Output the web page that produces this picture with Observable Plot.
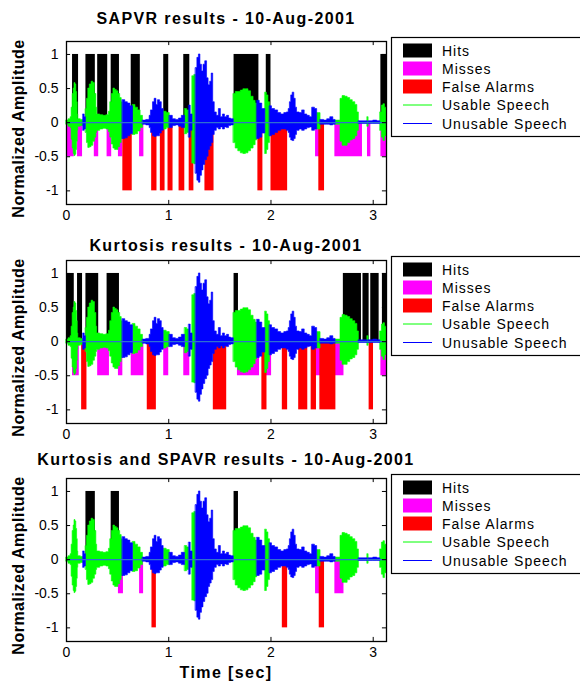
<!DOCTYPE html>
<html><head><meta charset="utf-8">
<script src="https://cdn.jsdelivr.net/npm/d3@7"></script>
<script src="https://cdn.jsdelivr.net/npm/@observablehq/plot@0.6"></script>
<style>
body{margin:0;background:#fff;}
#root{position:relative;width:580px;height:683px;overflow:hidden;background:#fff;font-family:"Liberation Sans",Arial,sans-serif;}
.panel{position:absolute;left:0;}
#overlay{position:absolute;left:0;top:0;}
</style></head><body><div id="root"></div>
<script>
// ---------- text ----------
const titles = ["SAPVR results - 10-Aug-2001", "Kurtosis results - 10-Aug-2001", "Kurtosis and SPAVR results - 10-Aug-2001"];
const legendLabels = ["Hits", "Misses", "False Alarms", "Usable Speech", "Unusable Speech"];
const yLabel = "Normalized Amplitude";
const xLabel = "Time [sec]";
const yTicks = [-1, -0.5, 0, 0.5, 1];
const xTicks = [0, 1, 2, 3];
const tEnd = 3.13;

// ---------- waveform envelope (start time, upper, lower, usable flag) ----------
const waveT = [
 0.000,0.020,0.040,0.050,0.060,0.070,0.078,0.088,0.096,0.104,0.110,0.115,0.140,
 0.165,0.178,
 0.190,0.200,0.213,0.228,0.245,0.262,0.278,0.292,0.300,0.330,0.360,0.390,0.415,0.428,0.443,0.459,0.475,0.492,0.508,0.525,0.540,
 0.550,0.575,0.600,0.625,
 0.650,0.675,0.700,0.725,
 0.748,0.780,0.813,0.826,0.846,0.862,0.880,0.895,0.915,0.932,
 0.950,0.980,
 1.010,1.040,1.070,1.100,1.128,
 1.160,1.180,
 1.200,1.215,
 1.233,1.250,
 1.266,1.280,1.295,1.310,1.325,1.340,1.357,1.375,1.390,1.405,1.420,1.435,1.450,1.470,1.490,1.510,1.530,1.550,1.570,1.590,1.610,
 1.636,1.655,1.680,1.705,1.730,1.755,1.780,1.805,1.830,1.850,
 1.865,1.890,1.915,
 1.945,1.960,1.975,
 1.990,2.010,2.040,2.070,2.100,2.130,2.155,2.173,2.185,2.198,2.212,2.228,2.242,2.255,2.280,2.305,2.330,2.355,2.380,2.403,2.430,
 2.452,
 2.485,2.520,2.550,2.580,2.610,
 2.632,2.680,2.700,2.725,2.750,2.775,2.800,2.825,2.845,
 2.860,
 2.945,
 2.955,3.000,3.040,
 3.070,3.085,3.100,3.115];
const waveHi = [
 0.03,0.05,0.08,0.22,0.42,0.50,0.58,0.56,0.45,0.30,0.12,0.05,0.04,
 0.12,0.08,
 0.20,0.35,0.50,0.56,0.60,0.58,0.42,0.22,0.12,0.11,0.10,0.11,0.16,0.30,0.42,0.50,0.48,0.46,0.42,0.36,0.30,
 0.33,0.30,0.28,0.24,
 0.26,0.22,0.18,0.10,
 0.03,0.04,0.10,0.18,0.30,0.35,0.26,0.33,0.30,0.20,
 0.16,0.14,
 0.10,0.05,0.04,0.06,0.10,
 0.20,0.18,
 0.25,0.12,
 0.68,0.70,
 0.80,0.95,1.00,0.85,0.75,0.85,0.90,0.65,0.55,0.60,0.72,0.30,0.15,0.10,0.20,0.08,0.12,0.08,0.10,0.06,0.05,
 0.42,0.45,0.45,0.47,0.49,0.49,0.46,0.38,0.32,0.28,
 0.32,0.28,0.20,
 0.44,0.40,0.30,
 0.24,0.20,0.18,0.14,0.12,0.14,0.15,0.20,0.30,0.40,0.44,0.35,0.22,0.15,0.14,0.18,0.12,0.10,0.08,0.22,0.20,
 0.14,
 0.04,0.03,0.05,0.08,0.04,
 0.03,0.35,0.39,0.38,0.36,0.33,0.30,0.26,0.15,
 0.02,
 0.08,
 0.02,0.03,0.02,
 0.15,0.25,0.27,0.22];
const waveLo = [
 -0.03,-0.06,-0.08,-0.25,-0.38,-0.46,-0.49,-0.47,-0.40,-0.28,-0.12,-0.06,-0.05,
 -0.12,-0.10,
 -0.15,-0.30,-0.37,-0.36,-0.34,-0.28,-0.22,-0.15,-0.12,-0.10,-0.09,-0.10,-0.14,-0.22,-0.32,-0.38,-0.40,-0.40,-0.36,-0.30,-0.24,
 -0.24,-0.23,-0.20,-0.17,
 -0.18,-0.17,-0.13,-0.08,
 -0.03,-0.04,-0.08,-0.15,-0.20,-0.21,-0.20,-0.20,-0.16,-0.12,
 -0.10,-0.08,
 -0.08,-0.05,-0.04,-0.06,-0.08,
 -0.17,-0.15,
 -0.22,-0.12,
 -0.60,-0.61,
 -0.75,-0.85,-0.88,-0.78,-0.70,-0.62,-0.55,-0.50,-0.40,-0.35,-0.30,-0.18,-0.12,-0.08,-0.10,-0.07,-0.10,-0.07,-0.08,-0.05,-0.04,
 -0.30,-0.38,-0.42,-0.45,-0.46,-0.45,-0.42,-0.38,-0.33,-0.26,
 -0.24,-0.22,-0.16,
 -0.46,-0.40,-0.30,
 -0.20,-0.18,-0.15,-0.12,-0.10,-0.10,-0.12,-0.15,-0.22,-0.26,-0.27,-0.24,-0.18,-0.12,-0.10,-0.12,-0.10,-0.08,-0.07,-0.12,-0.10,
 -0.10,
 -0.03,-0.03,-0.03,-0.04,-0.03,
 -0.03,-0.28,-0.34,-0.34,-0.30,-0.26,-0.24,-0.20,-0.12,
 -0.02,
 -0.06,
 -0.02,-0.02,-0.02,
 -0.12,-0.22,-0.27,-0.20];
const waveUsable = [
 1,1,1,1,1,1,1,1,1,1,1,1,1,
 0,0,
 1,1,1,1,1,1,1,1,1,1,1,1,1,1,1,1,1,1,1,1,1,
 0,0,0,0,
 1,1,1,1,
 0,0,0,0,0,0,0,0,0,0,
 1,1,
 0,0,0,0,0,
 1,1,
 0,0,
 1,1,
 0,0,0,0,0,0,0,0,0,0,0,0,0,0,0,0,0,0,0,0,0,
 1,1,1,1,1,1,1,1,1,1,
 0,0,0,
 1,1,1,
 0,0,0,0,0,0,0,0,0,0,0,0,0,0,0,0,0,0,0,0,0,
 1,
 0,0,0,0,0,
 1,1,1,1,1,1,1,1,1,
 0,
 1,
 0,0,0,
 1,1,1,1];

// ---------- detection intervals [start, end] in seconds ----------
const sapvrHits = [[0.059,0.118],[0.19,0.282],[0.305,0.403],[0.437,0.518],[0.633,0.722],[0.951,1.0],[1.147,1.206],[1.639,1.882],[1.954,2.0],[3.075,3.13]];
const sapvrMisses = [[0.0,0.076],[0.108,0.157],[0.272,0.315],[0.397,0.442],[0.508,0.551],[0.715,0.757],[2.436,2.485],[2.625,2.895],[2.944,2.977],[3.075,3.13]];
const sapvrFalse = [[0.551,0.643],[0.833,0.885],[0.918,0.964],[0.993,1.042],[1.101,1.157],[1.2,1.246],[1.354,1.443],[1.872,1.921],[2.0,2.163],[2.468,2.524]];

const kurtHits = [[0.0,0.076],[0.108,0.157],[0.19,0.315],[0.397,0.518],[1.639,1.682],[2.708,2.885],[2.9,2.96],[2.976,3.058],[3.09,3.13]];
const kurtMisses = [[0.059,0.125],[0.305,0.42],[0.508,0.551],[0.633,0.757],[0.951,1.0],[1.147,1.206],[1.672,1.888],[1.954,2.006],[2.436,2.485],[2.625,2.714],[3.075,3.13]];
const kurtFalse = [[0.148,0.2],[0.79,0.879],[1.436,1.567],[1.911,1.961],[2.111,2.163],[2.271,2.36],[2.393,2.445],[2.478,2.635],[2.96,3.003]];

const bothHits = [[0.19,0.282],[0.437,0.518],[1.639,1.682]];
const bothMisses = [[0.508,0.557],[0.715,0.754],[2.436,2.485],[2.625,2.714]];
const bothFalse = [[0.836,0.879],[2.111,2.163],[2.472,2.524]];

const hitLevel = 1, missLevel = -0.5, falseLevel = -1;
const colors = {hit: "#000000", miss: "#ff00ff", fa: "#ff0000", usable: "#00ff00", unusable: "#0000ff", zero: "#2f6fd0"};

// ---------- layout ----------
const frameTops = [41, 260, 478];
const frameH = 163;
const mTop = 10, mBottom = 30, mLeft = 66, plotW = 390, mRight = 4;
const font = '"Liberation Sans", Arial, sans-serif';

// Build runs of same usable flag; each run is one area path (step-after), closed at the next run's start.
const wave = [];
let seg = 0;
waveT.forEach((t, i) => {
  if (i > 0 && waveUsable[i] !== waveUsable[i - 1]) seg++;
  wave.push({t, hi: waveHi[i], lo: waveLo[i], u: waveUsable[i], seg});
  const nextT = i + 1 < waveT.length ? waveT[i + 1] : tEnd;
  const endsRun = i + 1 >= waveT.length || waveUsable[i + 1] !== waveUsable[i];
  if (endsRun) wave.push({t: nextT, hi: waveHi[i], lo: waveLo[i], u: waveUsable[i], seg});
});
const toBars = (arr, lo, hi) => arr.map(([a, b]) => ({a, b, lo, hi}));

function panel(hits, misses, fas) {
  const tx = 0.04, ty = 0.06;
  return Plot.plot({
    width: plotW, height: mTop + frameH + mBottom,
    marginLeft: mLeft, marginRight: mRight, marginTop: mTop, marginBottom: mBottom,
    style: {background: "transparent", fontFamily: font, fontSize: "14px", color: "#000", overflow: "visible"},
    x: {domain: [0, tEnd], ticks: xTicks, tickSize: 0, tickPadding: 6, tickFormat: d => String(d), label: null},
    y: {domain: [-1.2, 1.19], ticks: yTicks, tickSize: 0, tickPadding: 8, tickFormat: d => String(d), label: null},
    marks: [
      Plot.rect(toBars(hits, 0, hitLevel), {x1: "a", x2: "b", y1: "lo", y2: "hi", fill: colors.hit, inset: 0}),
      Plot.rect(toBars(misses, missLevel, 0), {x1: "a", x2: "b", y1: "lo", y2: "hi", fill: colors.miss, inset: 0}),
      Plot.rect(toBars(fas, falseLevel, 0), {x1: "a", x2: "b", y1: "lo", y2: "hi", fill: colors.fa, inset: 0}),
      Plot.areaY(wave.filter(d => d.u === 1), {x: "t", y1: "lo", y2: "hi", z: "seg", curve: "step-after", fill: colors.usable, stroke: colors.usable, strokeWidth: 0.6}),
      Plot.areaY(wave.filter(d => d.u === 0), {x: "t", y1: "lo", y2: "hi", z: "seg", curve: "step-after", fill: colors.unusable, stroke: colors.unusable, strokeWidth: 0.6}),
      Plot.ruleY([0], {stroke: colors.zero, strokeWidth: 1.3}),
      Plot.ruleY(yTicks, {y: d => d, x1: 0, x2: tx, stroke: "#000"}),
      Plot.ruleY(yTicks, {y: d => d, x1: tEnd - tx, x2: tEnd, stroke: "#000"}),
      Plot.ruleX(xTicks, {x: d => d, y1: -1.2, y2: -1.2 + ty, stroke: "#000"}),
      Plot.ruleX(xTicks, {x: d => d, y1: 1.19 - ty, y2: 1.19, stroke: "#000"}),
      Plot.frame({stroke: "#000", strokeWidth: 1.3})
    ]
  });
}

const root = document.getElementById("root");
const sets = [[sapvrHits, sapvrMisses, sapvrFalse], [kurtHits, kurtMisses, kurtFalse], [bothHits, bothMisses, bothFalse]];
sets.forEach((s, i) => {
  const el = panel(...s);
  el.classList.add("panel");
  el.style.position = "absolute";
  el.style.left = "0px";
  el.style.top = (frameTops[i] - mTop) + "px";
  root.appendChild(el);
});

// ---------- overlay: titles, labels, legends ----------
const svg = d3.select(root).append("svg").attr("id", "overlay").attr("width", 580).attr("height", 683)
  .style("font-family", font);
const titleBase = [24, 251, 465];
const plotCx = mLeft + (plotW - mLeft - mRight) / 2;
titles.forEach((t, i) => {
  svg.append("text").attr("x", plotCx).attr("y", titleBase[i]).attr("text-anchor", "middle")
    .style("font-weight", "bold").style("font-size", "16px").style("letter-spacing", "1.4px").text(t);
  const cy = frameTops[i] + frameH / 2 + 6;
  svg.append("text").attr("transform", `translate(18,${cy}) rotate(-90)`).attr("text-anchor", "middle")
    .attr("dominant-baseline", "central")
    .style("font-weight", "bold").style("font-size", "16px").style("letter-spacing", "0.5px").text(yLabel);
  // legend
  const lt = frameTops[i] - 4;
  const g = svg.append("g").attr("transform", `translate(391,${lt})`);
  g.append("rect").attr("x", 0.5).attr("y", 0.5).attr("width", 200).attr("height", 99)
    .attr("fill", "#fff").attr("stroke", "#000").attr("stroke-width", 1.2);
  const rowY = [13.5, 31.5, 49.5, 68, 86.5];
  const sw = [colors.hit, colors.miss, colors.fa];
  legendLabels.forEach((lab, j) => {
    if (j < 3) {
      g.append("rect").attr("x", 12).attr("y", rowY[j] - 7).attr("width", 29).attr("height", 14).attr("fill", sw[j]);
    } else {
      g.append("line").attr("x1", 12).attr("x2", 41).attr("y1", rowY[j]).attr("y2", rowY[j])
        .attr("stroke", j === 3 ? colors.usable : colors.unusable).attr("stroke-width", 1);
    }
    g.append("text").attr("x", 51).attr("y", rowY[j]).attr("dominant-baseline", "central")
      .style("font-size", "14px").style("letter-spacing", "1px").text(lab);
  });
});
svg.append("text").attr("x", plotCx).attr("y", 678).attr("text-anchor", "middle")
  .style("font-weight", "bold").style("font-size", "16px").style("letter-spacing", "1.4px").text(xLabel);
</script></body></html>
